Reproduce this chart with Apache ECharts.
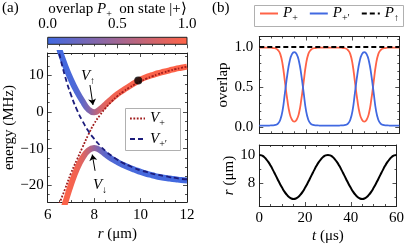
<!DOCTYPE html>
<html><head><meta charset="utf-8">
<script src="https://cdn.jsdelivr.net/npm/echarts@6/dist/echarts.min.js"></script>
<style>html,body{margin:0;padding:0;background:#fff}#c{width:407px;height:247px}</style>
</head><body><div id="c"></div>
<script>
// ---------- data ----------
const rGrid = [6.5, 6.75, 7.0, 7.25, 7.5, 7.75, 8.0, 8.25, 8.5, 8.75, 9.0, 9.25, 9.5, 9.75, 10.0, 10.25, 10.5, 10.75, 11.0, 11.25, 11.5, 11.75, 12.0];
const upperE = [17.0, 12.6, 8.8, 5.6, 2.9, 0.7, -0.1, 0.7, 2.1, 3.5, 4.8, 5.9, 6.9, 7.9, 8.8, 9.5, 10.0, 10.5, 10.9, 11.3, 11.7, 12.0, 12.3];
const lowerE = [-30.0, -24.8, -19.8, -15.6, -12.5, -10.5, -9.8, -10.4, -11.6, -12.7, -13.6, -14.4, -15.1, -15.7, -16.3, -16.8, -17.2, -17.6, -17.9, -18.1, -18.3, -18.5, -18.6];
const upperP = [0.01, 0.02, 0.04, 0.08, 0.17, 0.33, 0.55, 0.75, 0.86, 0.91, 0.94, 0.95, 0.96, 0.97, 0.97, 0.98, 0.98, 0.98, 0.98, 0.99, 0.99, 0.99, 0.99];
const lowerP = [0.99, 0.98, 0.96, 0.92, 0.83, 0.67, 0.45, 0.25, 0.14, 0.09, 0.06, 0.05, 0.04, 0.03, 0.03, 0.02, 0.02, 0.02, 0.02, 0.01, 0.01, 0.01, 0.01];
const vPlus = [-24.9, -20.9, -16.7, -13.1, -9.6, -6.2, -3.2, -0.9, 1.1, 2.8, 4.3, 5.5, 6.55, 7.48, 8.3, 9.02, 9.67, 10.23, 10.74, 11.19, 11.6, 11.96, 12.29];
const vPlusPrime = [15.8, 9.6, 4.7, 0.7, -2.5, -5.2, -7.3, -9.1, -10.7, -11.9, -13.0, -13.9, -14.6, -15.3, -15.9, -16.3, -16.8, -17.1, -17.4, -17.7, -17.9, -18.2, -18.3];
const dotR = [9.9];
const dotE = [8.5];

const tGrid = [0,1,2,3,4,5,6,7,8,9,10,11,12,13,14,15,16,17,18,19,20,21,22,23,24,25,26,27,28,29,30,31,32,33,34,35,36,37,38,39,40,41,42,43,44,45,46,47,48,49,50,51,52,53,54,55,56,57,58,59,60];
const pPlus = [0.99,0.99,0.99,0.99,0.99,0.99,0.985,0.98,0.96,0.91,0.78,0.56,0.34,0.17,0.09,0.065,0.09,0.17,0.34,0.56,0.78,0.91,0.96,0.98,0.985,0.99,0.99,0.99,0.99,0.99,0.99,
               0.99,0.99,0.99,0.99,0.99,0.985,0.98,0.96,0.91,0.78,0.56,0.34,0.17,0.09,0.065,0.09,0.17,0.34,0.56,0.78,0.91,0.96,0.98,0.985,0.99,0.99,0.99,0.99,0.99,0.99];
const pPlusPrime = [0.015,0.015,0.015,0.015,0.015,0.02,0.02,0.025,0.04,0.09,0.21,0.43,0.65,0.82,0.91,0.935,0.91,0.82,0.65,0.43,0.21,0.09,0.04,0.025,0.02,0.02,0.015,0.015,0.015,0.015,0.015,
                    0.015,0.015,0.015,0.015,0.02,0.02,0.025,0.04,0.09,0.21,0.43,0.65,0.82,0.91,0.935,0.91,0.82,0.65,0.43,0.21,0.09,0.04,0.025,0.02,0.02,0.015,0.015,0.015,0.015,0.015];
const pUpT = [0, 60];
const pUp = [1.0, 1.0];
const rOfT = [10.00,9.97,9.87,9.70,9.49,9.23,8.93,8.61,8.29,7.97,7.68,7.41,7.20,7.03,6.93,6.90,6.93,7.03,7.20,7.41,7.68,7.97,8.29,8.61,8.93,9.23,9.49,9.70,9.87,9.97,10.00,
              9.97,9.87,9.70,9.49,9.23,8.93,8.61,8.29,7.97,7.68,7.41,7.20,7.03,6.93,6.90,6.93,7.03,7.20,7.41,7.68,7.97,8.29,8.61,8.93,9.23,9.49,9.70,9.87,9.97,10.00];
const cbarRange = [0, 1];

// ---------- styling ----------
const FONT = "'Liberation Serif', 'Times New Roman', serif";
const BLUE = [65, 105, 225], RED = [255, 99, 71];
function mix(p) { const c = BLUE.map((b, i) => Math.round(b + (RED[i] - b) * p)); return 'rgb(' + c.join(',') + ')'; }
const rich = {
  i: { fontFamily: FONT, fontStyle: 'italic', fontSize: 15, lineHeight: 20, color: '#000' },
  s: { fontFamily: FONT, fontSize: 10, lineHeight: 10, verticalAlign: 'bottom', color: '#000' },
  n: { fontFamily: FONT, fontSize: 15, lineHeight: 20, color: '#000' }
};
const tickStyle = { color: '#222', width: 0.8 };
const lbl = { fontFamily: FONT, fontSize: 15, color: '#000' };
function ax(grid, pos, o) {
  return Object.assign({
    type: 'value', gridIndex: grid, position: pos,
    axisLine: { show: true, onZero: false, lineStyle: { color: '#222', width: 1 } },
    axisTick: { show: true, inside: true, length: 4, lineStyle: tickStyle },
    minorTick: { show: true, splitNumber: 4, length: 2, lineStyle: tickStyle },
    splitLine: { show: false },
    axisLabel: { show: false }
  }, o);
}
const nameStyle = { fontFamily: FONT, fontSize: 15, color: '#000', rich: { i: { fontFamily: FONT, fontStyle: 'italic', fontSize: 15, color: '#000' } } };
const minus = v => (v < 0 ? '\u2212' + Math.abs(v) : String(v));
const hiddenSymbol = { color: 'transparent', borderColor: 'transparent', borderWidth: 0, opacity: 0 };
const frameStyle = { fill: '#ffffff', stroke: '#b0b0b0', lineWidth: 1 };

const xy = (xs, ys) => xs.map((x, i) => [x, ys[i]]);

const option = {
  animation: false,
  grid: [
    { left: 47.7, top: 53, width: 139.3, height: 152.7 },
    { left: 259.3, top: 36.5, width: 140, height: 96.8 },
    { left: 259.3, top: 145, width: 140, height: 61 },
    { left: 47.7, top: 37.3, width: 139.3, height: 7, show: true, borderColor: '#222', borderWidth: 1, backgroundColor: 'transparent', z: 10 }
  ],
  xAxis: [
    ax(0, 'bottom', { min: 6, max: 12, interval: 2, axisLabel: Object.assign({ show: true, margin: 5 }, lbl),
      name: '{i|r} (μm)', nameLocation: 'middle', nameGap: 24, nameTextStyle: nameStyle }),
    ax(0, 'top', { min: 6, max: 12, interval: 2 }),
    ax(1, 'bottom', { min: 0, max: 60, interval: 20 }),
    ax(1, 'top', { min: 0, max: 60, interval: 20 }),
    ax(2, 'bottom', { min: 0, max: 60, interval: 20, axisLabel: Object.assign({ show: true, margin: 5 }, lbl),
      name: '{i|t} (μs)', nameLocation: 'middle', nameGap: 23, nameTextStyle: nameStyle }),
    ax(2, 'top', { min: 0, max: 60, interval: 20 }),
    ax(3, 'top', { min: 0, max: 1, interval: 0.5, z: 10, axisLine: { show: false },
      minorTick: { show: true, splitNumber: 6, length: 2, lineStyle: tickStyle },
      axisLabel: Object.assign({ show: true, margin: 6, formatter: v => v.toFixed(1) }, lbl) })
  ],
  yAxis: [
    ax(0, 'left', { min: -24.5, max: 16, splitNumber: 4,
      axisLabel: Object.assign({ show: true, margin: 4, showMinLabel: false, showMaxLabel: false, formatter: minus }, lbl),
      name: 'energy (MHz)', nameLocation: 'middle', nameGap: 31, nameTextStyle: nameStyle }),
    ax(0, 'right', { min: -24.5, max: 16, splitNumber: 4 }),
    ax(1, 'left', { min: -0.08, max: 1.13, splitNumber: 2, minorTick: { show: true, splitNumber: 5, length: 2, lineStyle: tickStyle },
      axisLabel: Object.assign({ show: true, margin: 6, showMinLabel: false, showMaxLabel: false, formatter: v => v.toFixed(1) }, lbl),
      name: 'overlap', nameLocation: 'middle', nameGap: 26, nameTextStyle: nameStyle }),
    ax(1, 'right', { min: -0.08, max: 1.13, splitNumber: 2, minorTick: { show: true, splitNumber: 5, length: 2, lineStyle: tickStyle } }),
    ax(2, 'left', { min: 6.4, max: 10.7, splitNumber: 2, minorTick: { show: true, splitNumber: 2, length: 2, lineStyle: tickStyle },
      axisLabel: Object.assign({ show: true, margin: 4, showMinLabel: false, showMaxLabel: false }, lbl),
      name: '{i|r} (μm)', nameLocation: 'middle', nameGap: 22, nameTextStyle: nameStyle }),
    ax(2, 'right', { min: 6.4, max: 10.7, splitNumber: 2, minorTick: { show: true, splitNumber: 2, length: 2, lineStyle: tickStyle } }),
    { type: 'value', gridIndex: 3, min: 0, max: 1, show: false }
  ],
  visualMap: [
    { type: 'continuous', show: false, seriesIndex: 0, dimension: 0, min: rGrid[0], max: rGrid[rGrid.length - 1], inRange: { color: upperP.map(mix) } },
    { type: 'continuous', show: false, seriesIndex: 1, dimension: 0, min: rGrid[0], max: rGrid[rGrid.length - 1], inRange: { color: lowerP.map(mix) } }
  ],
  legend: [
    { data: ['V+', "V+'"], orient: 'vertical', left: 126, top: 109, padding: [2, 4, 2, 3], itemGap: 3, itemWidth: 15, itemHeight: 14, z: 8,
      itemStyle: hiddenSymbol,
      formatter: n => n === 'V+' ? '{i|V}{s|+}' : '{i|V}{s|+′}', textStyle: { rich: rich } },
    { data: ['P+', "P+'", 'P↑'], orient: 'horizontal', left: 256, top: 6, padding: [0, 4, 0, 3], itemGap: 11, itemWidth: 18, itemHeight: 14, z: 8,
      itemStyle: hiddenSymbol,
      formatter: n => n === 'P+' ? '{i|P}{s|+}' : (n === "P+'" ? '{i|P}{s|+′}' : '{i|P}{s|↑}'), textStyle: { rich: rich } }
  ],
  series: [
    { name: 'upper', type: 'line', xAxisIndex: 0, yAxisIndex: 0, data: xy(rGrid, upperE), smooth: true, symbol: 'none', lineStyle: { width: 6 }, z: 2 },
    { name: 'lower', type: 'line', xAxisIndex: 0, yAxisIndex: 0, data: xy(rGrid, lowerE), smooth: true, symbol: 'none', lineStyle: { width: 6 }, z: 2 },
    { name: 'V+', type: 'line', xAxisIndex: 0, yAxisIndex: 0, data: xy(rGrid, vPlus), smooth: true, symbol: 'none', color: '#a01c1c',
      lineStyle: { width: 1.8, type: [1.8, 1.6], color: '#a01c1c' }, z: 3 },
    { name: "V+'", type: 'line', xAxisIndex: 0, yAxisIndex: 0, data: xy(rGrid, vPlusPrime), smooth: true, symbol: 'none', color: '#1c1c7c',
      lineStyle: { width: 1.8, type: [5, 3], color: '#1c1c7c' }, z: 3 },
    { name: 'dot', type: 'scatter', xAxisIndex: 0, yAxisIndex: 0, data: xy(dotR, dotE), symbolSize: 8, itemStyle: { color: '#000' }, z: 5,
      markLine: { silent: true, symbol: ['none', 'arrow'], symbolSize: 6, label: { show: false },
        lineStyle: { color: '#000', width: 1, type: 'solid' },
        data: [ [ { coord: [7.82, 7.3] }, { coord: [7.95, 1.9] } ], [ { coord: [8.04, -16.0] }, { coord: [7.92, -11.6] } ] ] } },
    { name: 'P+', type: 'line', xAxisIndex: 2, yAxisIndex: 2, data: xy(tGrid, pPlus), smooth: true, symbol: 'none', color: '#ff6347', lineStyle: { width: 1.8, color: '#ff6347' }, z: 3 },
    { name: "P+'", type: 'line', xAxisIndex: 2, yAxisIndex: 2, data: xy(tGrid, pPlusPrime), smooth: true, symbol: 'none', color: '#4169e1', lineStyle: { width: 1.8, color: '#4169e1' }, z: 3 },
    { name: 'P↑', type: 'line', xAxisIndex: 2, yAxisIndex: 2, data: xy(pUpT, pUp), symbol: 'none', color: '#000', lineStyle: { width: 2, type: [5, 3], color: '#000' }, z: 4 },
    { name: 'r(t)', type: 'line', xAxisIndex: 4, yAxisIndex: 4, data: xy(tGrid, rOfT), smooth: true, symbol: 'none', color: '#000', lineStyle: { width: 2, color: '#000' }, z: 3 },
    { name: 'cbar', type: 'custom', xAxisIndex: 6, yAxisIndex: 6, data: [cbarRange], silent: true, z: 1,
      renderItem: (params, api) => {
        const p0 = api.coord([api.value(0), 0]);
        const p1 = api.coord([api.value(1), 1]);
        return { type: 'rect', shape: { x: p0[0], y: p1[1], width: p1[0] - p0[0], height: p0[1] - p1[1] },
          style: { fill: new echarts.graphic.LinearGradient(0, 0, 1, 0, [{ offset: 0, color: mix(0) }, { offset: 1, color: mix(1) }]) } };
      } }
  ],
  graphic: {
    elements: [
      { type: 'rect', shape: { x: 125.5, y: 108.5, width: 55, height: 42 }, style: frameStyle, z: 6, silent: true },
      { type: 'rect', shape: { x: 254.5, y: 5.5, width: 149, height: 21 }, style: frameStyle, z: 6, silent: true },
      { type: 'text', left: 2, top: 1, style: { text: '(a)', font: '15px ' + FONT, fill: '#000' } },
      { type: 'text', left: 212, top: 1, style: { text: '(b)', font: '15px ' + FONT, fill: '#000' } },
      { type: 'text', x: 117.5, y: 9, style: { text: '{n|overlap }{i|P}{s|+}{n|  on state |+⟩}', align: 'center', verticalAlign: 'middle', rich: rich, fill: '#000' } },
      { type: 'text', x: 88, y: 76, style: { text: '{i|V}{s|↑}', align: 'center', verticalAlign: 'middle', rich: rich, fill: '#000' }, z: 20 },
      { type: 'text', x: 100, y: 185, style: { text: '{i|V}{s|↓}', align: 'center', verticalAlign: 'middle', rich: rich, fill: '#000' }, z: 20 }
    ]
  }
};
const chart = echarts.init(document.getElementById('c'));
chart.setOption(option);
</script>
</body></html>
